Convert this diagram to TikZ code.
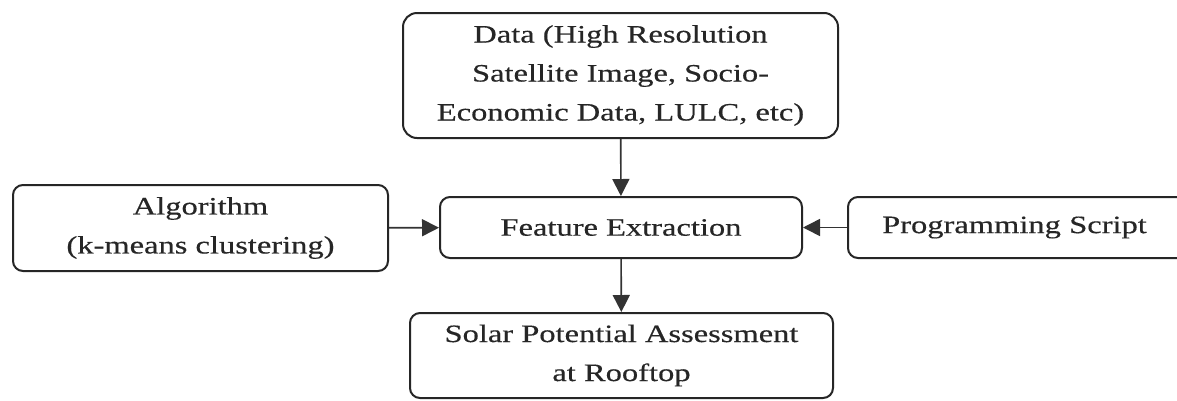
\documentclass[tikz,border=0pt]{standalone}
\usepackage{fontspec}
\setmainfont{Liberation Serif}[FakeStretch=1.3,FakeBold=0.4]
\usetikzlibrary{arrows.meta}
\tikzset{
  box/.style={draw=black!85, line width=2pt, rounded corners=10pt, align=center,
    inner sep=0pt, text=black!85, font=\fontsize{25}{39}\selectfont},
  flow/.style={draw=black!80, line width=1.6pt, -{Triangle[length=17pt,width=17pt]}}
}
\begin{document}
\begin{tikzpicture}[x=1pt,y=-1pt]
\clip (0,0) rectangle (1177,400);
\useasboundingbox (0,0) rectangle (1177,400);
\fill[white] (0,0) rectangle (1177,400);
\node[box, rounded corners=14pt, minimum width=435pt, minimum height=125pt] (data) at (620.5,75.5)
  {Data (High Resolution\\Satellite Image, Socio-\\Economic Data, LULC, etc)};
\node[box, minimum width=362pt, minimum height=61pt] (feat) at (621,227.5) {Feature Extraction};
\node[box, minimum width=375pt, minimum height=86pt] (algo) at (200.5,228) {Algorithm\\(k-means clustering)};
\node[box, minimum width=345pt, minimum height=61pt, text width=300pt] (prog) at (1020.5,227.5) {\hspace*{-12pt}Programming Script};
\node[box, minimum width=423pt, minimum height=85pt] (solar) at (621.5,355.5) {Solar Potential Assessment\\at Rooftop};
\draw[flow] (data) -- (feat);
\draw[flow] (algo) -- (feat);
\draw[flow] (prog.west) -- (feat.east);
\draw[flow] (feat) -- (solar);
\end{tikzpicture}
\end{document}
